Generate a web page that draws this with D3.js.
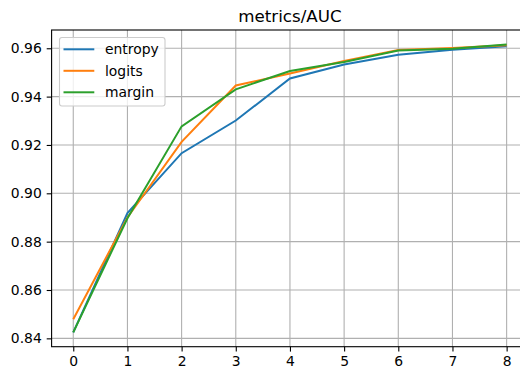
<!DOCTYPE html>
<html>
<head>
<meta charset="utf-8">
<script src="https://cdn.jsdelivr.net/npm/d3@7"></script>
<style>
  body { margin: 0; background: #fff; }
  svg { display: block; font-family: "DejaVu Sans", sans-serif; }
</style>
</head>
<body>
<svg id="chart"></svg>
<script>
const steps = [0, 1, 2, 3, 4, 5, 6, 7, 8];
const entropy = [0.8425, 0.8918, 0.9166, 0.9301, 0.9475, 0.9533, 0.9573, 0.9594, 0.9608];
const logits = [0.8479, 0.8900, 0.9213, 0.9446, 0.9496, 0.9547, 0.9593, 0.9601, 0.9612];
const margin = [0.8425, 0.8897, 0.9277, 0.9430, 0.9506, 0.9543, 0.9591, 0.9598, 0.9616];
const seriesNames = ['entropy', 'logits', 'margin'];
const yTicks = [0.84, 0.86, 0.88, 0.90, 0.92, 0.94, 0.96];

const W = 520, H = 370;
const plotL = 51.6, plotR = 528.3, plotT = 30, plotB = 346.7;
const color = d3.scaleOrdinal().domain(seriesNames).range(['#1f77b4', '#ff7f0e', '#2ca02c']);
const series = [entropy, logits, margin];

const svg = d3.select('#chart').attr('width', W).attr('height', H);

// matplotlib style 5% margins
const xExt = d3.extent(steps);
const xPad = (xExt[1] - xExt[0]) * 0.05;
const x = d3.scaleLinear().domain([xExt[0] - xPad, xExt[1] + xPad]).range([plotL, plotR]);
const yExt = d3.extent(series.flat());
const yPad = (yExt[1] - yExt[0]) * 0.05;
const y = d3.scaleLinear().domain([yExt[0] - yPad, yExt[1] + yPad]).range([plotB, plotT]);

svg.append('defs').append('clipPath').attr('id', 'clip')
  .append('rect').attr('x', plotL).attr('y', plotT)
  .attr('width', plotR - plotL).attr('height', plotB - plotT);

// grid
const grid = svg.append('g');
grid.selectAll('.gx').data(steps).join('line')
  .attr('x1', d => x(d)).attr('x2', d => x(d))
  .attr('y1', plotT).attr('y2', plotB)
  .attr('stroke', '#b0b0b0').attr('stroke-width', 1.1);
grid.selectAll('.gy').data(yTicks).join('line')
  .attr('x1', plotL).attr('x2', plotR)
  .attr('y1', d => y(d)).attr('y2', d => y(d))
  .attr('stroke', '#b0b0b0').attr('stroke-width', 1.1);

// lines
const line = d3.line().x((_, i) => x(steps[i])).y(d => y(d));
svg.append('g').attr('clip-path', 'url(#clip)')
  .selectAll('path').data(series).join('path')
  .attr('d', line)
  .attr('fill', 'none')
  .attr('stroke', (_, i) => color(seriesNames[i]))
  .attr('stroke-width', 2);

// spines
svg.append('rect').attr('x', plotL).attr('y', plotT)
  .attr('width', plotR - plotL).attr('height', plotB - plotT)
  .attr('fill', 'none').attr('stroke', '#000').attr('stroke-width', 1.1);

// axes
const xAxis = d3.axisBottom(x).tickValues(steps).tickFormat(d3.format('d'))
  .tickSize(4.9).tickPadding(4.9);
const yAxis = d3.axisLeft(y).tickValues(yTicks).tickFormat(d3.format('.2f'))
  .tickSize(4.9).tickPadding(4.9);
const gx = svg.append('g').attr('transform', `translate(0,${plotB})`).call(xAxis);
const gy = svg.append('g').attr('transform', `translate(${plotL},0)`).call(yAxis);
[gx, gy].forEach(g => {
  g.select('.domain').remove();
  g.selectAll('.tick line').attr('stroke', '#000').attr('stroke-width', 1.1);
  g.selectAll('.tick text').attr('fill', '#000')
    .style('font-family', '"DejaVu Sans", sans-serif').style('font-size', '13.9px');
});

// title
svg.append('text').attr('x', (plotL + plotR) / 2).attr('y', 22)
  .attr('text-anchor', 'middle').style('font-size', '16.7px').attr('fill', '#000')
  .text('metrics/AUC');

// legend
const lg = svg.append('g');
lg.append('rect').attr('x', 59.5).attr('y', 37.5).attr('width', 105.5).attr('height', 68.5)
  .attr('rx', 2.5).attr('fill', '#fff').attr('fill-opacity', 0.8)
  .attr('stroke', '#cccccc').attr('stroke-width', 1.1);
const items = lg.selectAll('.item').data(seriesNames).join('g')
  .attr('transform', (_, i) => `translate(0,${49.3 + i * 21.5})`);
items.append('line').attr('x1', 63.5).attr('x2', 94.3).attr('y1', 0).attr('y2', 0)
  .attr('stroke', d => color(d)).attr('stroke-width', 2);
items.append('text').attr('x', 105).attr('y', 0).attr('dy', '0.35em')
  .style('font-size', '13.9px').attr('fill', '#000').text(d => d);
</script>
</body>
</html>
